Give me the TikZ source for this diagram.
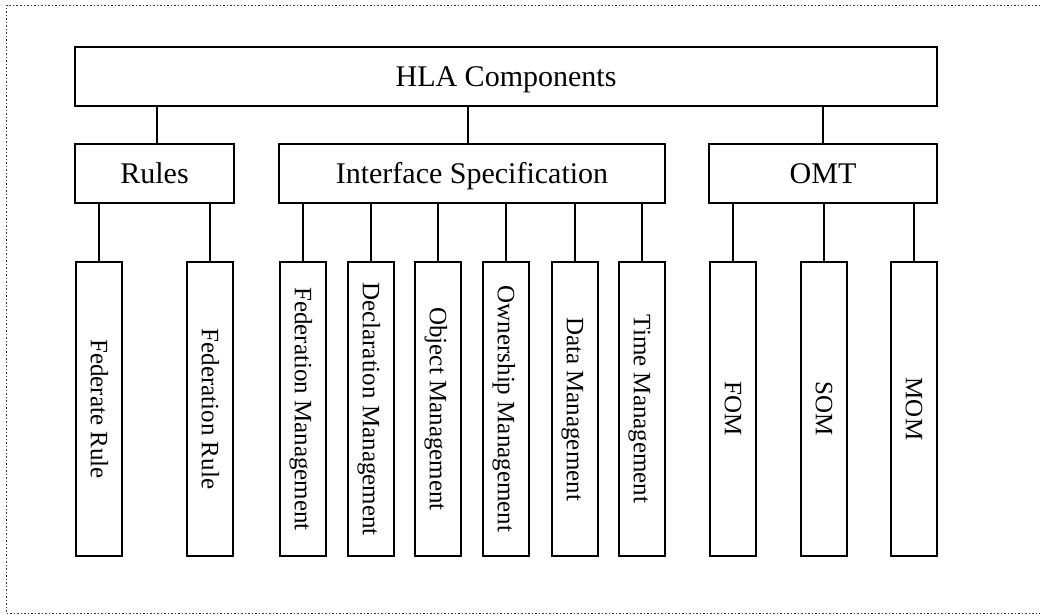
\documentclass[tikz,border=0pt]{standalone}
\usepackage{fontspec}
\setmainfont{Liberation Serif}
\begin{document}
\begin{tikzpicture}[x=1pt,y=-1pt,
  box/.style={draw=black, line width=2.6pt, rectangle, inner sep=0pt, fill=white,
    font=\fontsize{30}{36}\selectfont, text height=20pt, text depth=0pt, minimum height=59pt},
  leaf/.style={draw=black, line width=2.6pt, rectangle, inner sep=0pt, fill=white,
    minimum width=46pt, minimum height=294pt},
  leaftext/.style={rotate=-90, font=\fontsize{25}{30}\selectfont, inner sep=0pt,
    text height=16.5pt, text depth=0pt},
  conn/.style={draw=black, line width=2.2pt},
  frame/.style={draw=black!80, line width=1.5pt, dotted}]
\useasboundingbox (0,0) rectangle (1040,615);
\draw[frame] (1040,5.5) -- (6.5,5.5) -- (6.5,613.5) -- (1040,613.5);

\node[box, minimum width=862pt] (hla) at (506,76.5) {HLA Components};
\node[box, minimum width=159pt] (rules) at (154.5,173.5) {Rules};
\node[box, minimum width=386pt] (is) at (472,173.5) {Interface Specification};
\node[box, minimum width=228pt] (omt) at (823,173.5) {OMT};

\node[leaf] (fr) at (99,409) {};
\node[leaftext] at (fr) {Federate Rule};
\node[leaf] (fnr) at (210,409) {};
\node[leaftext] at (fnr) {Federation Rule};
\node[leaf] (fm) at (303,409) {};
\node[leaftext] at (fm) {Federation Management};
\node[leaf] (dm) at (371,409) {};
\node[leaftext] at (dm) {Declaration Management};
\node[leaf] (om) at (438,409) {};
\node[leaftext] at (om) {Object Management};
\node[leaf] (owm) at (506,409) {};
\node[leaftext] at (owm) {Ownership Management};
\node[leaf] (dam) at (575,409) {};
\node[leaftext] at (dam) {Data Management};
\node[leaf] (tm) at (642,409) {};
\node[leaftext] at (tm) {Time Management};
\node[leaf] (fom) at (733,409) {};
\node[leaftext] at (fom) {FOM};
\node[leaf] (som) at (824,409) {};
\node[leaftext] at (som) {SOM};
\node[leaf] (mom) at (914,409) {};
\node[leaftext] at (mom) {MOM};

\draw[conn] ([xshift=2.5pt]rules.north) -- ([xshift=2.5pt]rules.north |- hla.south);
\draw[conn] ([xshift=-4pt]is.north) -- ([xshift=-4pt]is.north |- hla.south);
\draw[conn] (omt.north) -- (omt.north |- hla.south);

\foreach \n in {fr,fnr} \draw[conn] (\n.north) -- (\n.north |- rules.south);
\foreach \n in {fm,dm,om,owm,dam,tm} \draw[conn] (\n.north) -- (\n.north |- is.south);
\foreach \n in {fom,som,mom} \draw[conn] (\n.north) -- (\n.north |- omt.south);
\end{tikzpicture}
\end{document}
